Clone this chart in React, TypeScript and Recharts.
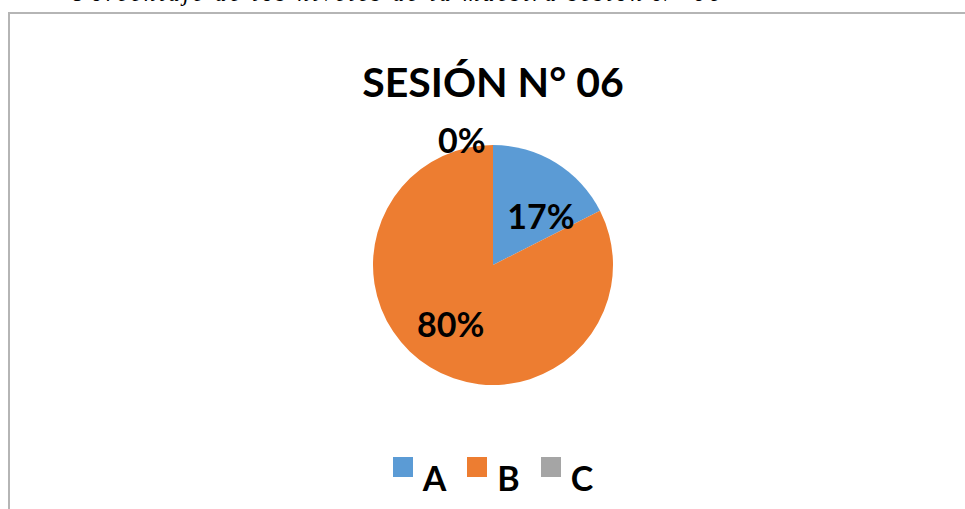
import React from 'react';
import { PieChart, Pie, Cell, Legend } from 'recharts';

// chart values
const categories = ['A', 'B', 'C'];
const shares = [17, 80, 0];
const colors = ['#5B9BD5', '#ED7D31', '#A5A5A5'];

const chartTitle = 'SESIÓN N° 06';
const caption = 'Porcentaje de los niveles de la muestra sesión N° 06';

const data = categories.map((name, i) => ({ name, value: shares[i] }));

const RADIAN = Math.PI / 180;
const FONT = 'Lato, "Open Sans", "Noto Sans", sans-serif';

// where each data label sits, relative to its slice (Excel best fit look)
const labelPlace = [
    { r: 0.575, da: -12.5 },
    { r: 0.6, da: -4.5 },
    { r: 1.075, da: 14 },
];

const renderLabel = (props: any) => {
    const { cx, cy, midAngle, outerRadius, index } = props;
    const p = labelPlace[index];
    const a = (midAngle + p.da) * RADIAN;
    const x = cx + outerRadius * p.r * Math.cos(a);
    const y = cy - outerRadius * p.r * Math.sin(a);
    return (
        <text
            x={x}
            y={y}
            textAnchor="middle"
            dominantBaseline="central"
            fill="#000"
            fontFamily={FONT}
            fontWeight={700}
            fontSize={34}
        >
            {shares[index]}%
        </text>
    );
};

const renderLegend = () => (
    <div style={{ display: 'flex', justifyContent: 'center', fontFamily: FONT }}>
        {categories.map((c, i) => (
            <div key={c} style={{ display: 'flex', alignItems: 'flex-start', marginRight: i < categories.length - 1 ? 21 : 0 }}>
                <div style={{ width: 20, height: 20, background: colors[i], marginTop: 2 }} />
                <div style={{ marginLeft: 10, marginTop: 6, fontSize: 34, fontWeight: 700, lineHeight: '33px', color: '#000' }}>
                    {c}
                </div>
            </div>
        ))}
    </div>
);

const App: React.FC = () => {
    return (
        <div style={{ position: 'fixed', left: 0, top: 0, width: 965, height: 509, background: '#fff', overflow: 'hidden' }}>
            <div
                style={{
                    position: 'absolute',
                    left: 74,
                    top: -18,
                    fontFamily: '"Liberation Serif", serif',
                    fontStyle: 'italic',
                    fontSize: 23,
                    lineHeight: '23px',
                    letterSpacing: 3.2,
                    whiteSpace: 'nowrap',
                    color: '#000',
                }}
            >
                {caption}
            </div>
            <div
                style={{
                    position: 'absolute',
                    left: 8,
                    top: 12,
                    width: 980,
                    height: 520,
                    border: '2px solid #b5b5b5',
                    boxSizing: 'border-box',
                }}
            />
            <div
                style={{
                    position: 'absolute',
                    left: 0,
                    top: 57,
                    width: 986,
                    textAlign: 'center',
                    fontFamily: FONT,
                    fontWeight: 700,
                    fontSize: 41,
                    lineHeight: '50px',
                    color: '#000',
                }}
            >
                {chartTitle}
            </div>
            <div style={{ position: 'absolute', left: 0, top: 0 }}>
                <PieChart width={965} height={509} margin={{ top: 0, right: 0, bottom: 0, left: 0 }}>
                    <Pie
                        data={data}
                        dataKey="value"
                        nameKey="name"
                        cx={493}
                        cy={265}
                        outerRadius={120}
                        startAngle={90}
                        endAngle={-270}
                        stroke="none"
                        labelLine={false}
                        label={renderLabel}
                        isAnimationActive={false}
                    >
                        {data.map((d, i) => (
                            <Cell key={d.name} fill={colors[i]} />
                        ))}
                    </Pie>
                    <Legend
                        content={renderLegend}
                        wrapperStyle={{ position: 'absolute', left: 0, top: 455, width: 986, height: 50, bottom: 'auto' }}
                    />
                </PieChart>
            </div>
        </div>
    );
};

export default App;
